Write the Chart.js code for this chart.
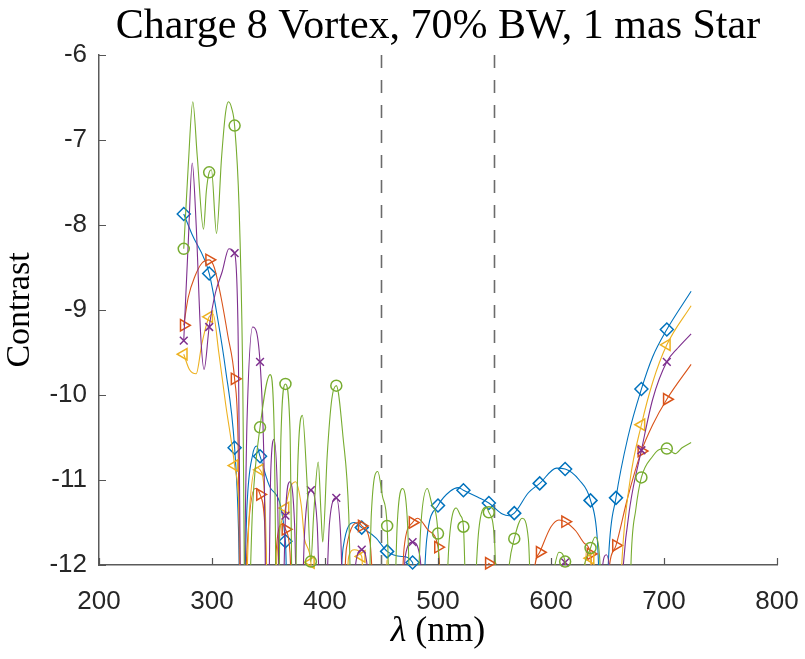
<!DOCTYPE html>
<html>
<head>
<meta charset="utf-8">
<script src="https://cdn.jsdelivr.net/npm/chart.js@4.4.1/dist/chart.umd.min.js"></script>
<style>
html, body { margin: 0; padding: 0; background: #fff; }
#wrap { width: 805px; height: 659px; }
</style>
</head>
<body>
<div id="wrap"><canvas id="chart" width="805" height="659"></canvas></div>
<script>
var titleText = 'Charge 8 Vortex, 70% BW, 1 mas Star';

// axes
var xTicks = [200, 300, 400, 500, 600, 700, 800];
var yTicks = [-12, -11, -10, -9, -8, -7, -6];
var bandEdges = [450, 550];

// wavelengths that carry a marker (nm)
var markX = [275, 297.5, 320, 342.5, 365, 387.5, 410, 432.5, 455, 477.5,
             500, 522.5, 545, 567.5, 590, 612.5, 635, 657.5, 680, 702.5];

// log10 contrast at the markers, null = below the axes
var blueMarks   = [-7.87, -8.57, -10.62, -10.72, -11.72, null, null, -11.56, -11.84, -11.97,
                   -11.30, -11.12, -11.27, -11.39, -11.04, -10.87, -11.24, -11.21, -9.93, -9.23];
var redMarks    = [-9.18, -8.41, -9.81, -11.17, -11.58, null, null, -11.54, null, -11.50,
                   -11.79, null, -11.98, null, -11.85, -11.49, -11.87, -11.77, -10.66, -10.05];
var yellowMarks = [-9.52, -9.08, -10.83, -10.88, -11.33, -11.97, null, -11.90, null, null,
                   null, null, null, null, null, null, -11.92, null, -10.35, -9.41];
var purpleMarks = [-9.36, -9.20, -8.33, -9.61, -11.42, -11.12, -11.21, -11.82, null, -11.73,
                   null, null, null, null, null, -11.97, null, null, -10.65, -9.61];
var greenMarks  = [-8.28, -7.38, -6.83, -10.38, -9.87, -11.96, -9.89, null, -11.54, null,
                   -11.63, -11.55, -11.38, -11.69, null, -11.96, -11.80, null, -10.97, -10.63];

// extra points between the markers: [nm, contrast]
var blueCurve = [[282, -8.1], [305, -9.1], [312, -9.7], [323.5, -11.6], [326, -13.5], [331, -11.3],
  [336, -10.7], [339.5, -10.6], [352, -11.1], [368, -13.5], [390, -14], [409, -13.5], [416, -11.8],
  [426, -11.5], [445, -11.68], [468, -11.9], [482, -13.5], [490, -11.7], [511, -11.13], [518, -11.09],
  [535, -11.2], [557, -11.4], [563, -11.42], [580, -11.15], [605, -10.86], [625, -11.0], [641, -11.7],
  [647, -13.5], [651, -11.9], [668, -10.5], [690, -9.55], [724, -8.78]];
var redCurve = [[279, -8.85], [285, -8.6], [291, -8.45], [302, -8.5], [308, -8.85], [314, -9.3],
  [323, -10.5], [326, -13.5], [331, -11.8], [338, -11.1], [347, -11.6], [351, -13.5], [357, -11.8],
  [362, -11.52], [369, -11.85], [373, -13.5], [395, -14], [413, -13.5], [419, -11.8], [430, -11.5],
  [440, -11.75], [447, -13.5], [464, -13.5], [470, -11.8], [482, -11.45], [492, -11.6], [508, -13.5],
  [530, -14], [540, -12.4], [550, -12.4], [555, -13.5], [581, -13.5], [585, -12.1], [600, -11.55],
  [607, -11.47], [622, -11.6], [630, -11.75], [641, -13.5], [646, -13.5], [651, -12.1], [668, -11.2],
  [690, -10.35], [724, -9.64]];
var yellowCurve = [[280, -9.7], [286, -9.75], [291, -9.4], [301, -9.05], [306, -9.5], [312, -10.1],
  [324, -11.4], [327, -13.5], [333, -11.4], [339, -10.85], [347, -11.3], [351, -13.5], [358, -11.8],
  [369, -11.1], [374, -11.02], [379, -11.3], [382, -11.7], [393, -13.5], [415, -13.5], [421, -11.9],
  [426, -11.82], [437, -13.5], [449, -13], [455, -11.94], [461, -13], [500, -14], [600, -14],
  [626, -13.5], [631, -11.85], [639, -13.5], [658, -13.5], [663, -11.9], [670, -11.0], [690, -9.85],
  [724, -8.95]];
var purpleCurve = [[279, -8.2], [282.5, -7.27], [286, -8.0], [290, -9.3], [293, -9.7], [303, -8.8],
  [309, -8.55], [315, -8.28], [323, -9.2], [326.5, -13.5], [331, -10.3], [336, -9.2], [346, -10.8],
  [349, -13.5], [352, -10.9], [355, -10.52], [358, -11.2], [361, -13.5], [369, -11.02], [373, -11.5],
  [377, -13.5], [382, -11.6], [393, -11.5], [398, -13.5], [404, -11.5], [414, -11.7], [418, -13.5],
  [427, -12.0], [438, -12.1], [442, -13.5], [466, -13.5], [471, -11.9], [484, -11.9], [492, -13.5],
  [600, -14], [606, -12.3], [619, -12.3], [640, -14], [645, -12.1], [649, -11.88], [653, -12.2],
  [658, -13.5], [664, -12.0], [670, -11.3], [690, -10.05], [712, -9.45], [724, -9.28]];
var greenCurve = [[279, -7.3], [283, -6.55], [287, -7.2], [292.5, -8.05], [295, -7.6], [299.5, -7.35],
  [304, -8.1], [308.5, -7.2], [312, -6.68], [314.5, -6.55], [317.5, -6.63], [324, -7.8], [327, -9.6],
  [330, -13.5], [336, -11.3],
  [351.5, -9.76], [355, -10.4], [358, -13.5], [361, -10.5], [369, -10.4], [372, -13.5], [376, -10.8],
  [380, -10.24], [384, -11.0], [390, -11.4], [394, -10.79], [396.5, -11.4], [398, -11.73], [402, -10.7],
  [406, -10.05], [416, -10.5], [421, -11.4], [425, -13.5], [437, -13.5], [441, -11.4], [446.7, -10.9],
  [451, -11.2], [459, -13.5], [464, -11.5], [468.7, -11.1], [473, -11.5], [478, -13.5], [485, -11.5],
  [490.5, -11.1], [495, -11.3], [503, -13.5], [510, -11.7], [516, -11.33], [520, -11.42], [527, -13.5],
  [536, -11.6], [542.5, -11.32], [550, -11.7], [554, -13.5], [563, -12.0], [574.4, -11.45], [580, -11.7],
  [585, -13.5], [602, -12.1], [607, -11.85], [617, -13.5], [628, -12.1], [639, -11.67], [643, -11.9],
  [647, -13.5], [668, -13.5], [671, -11.9], [675, -11.35], [690, -10.72], [696, -10.64], [710, -10.69],
  [716, -10.62], [724, -10.56]];

function curvePoints(curve, marks) {
  var pts = curve.map(function (p) { return {x: p[0], y: p[1]}; });
  for (var i = 0; i < markX.length; i++) {
    if (marks[i] !== null) pts.push({x: markX[i], y: marks[i]});
  }
  pts.sort(function (a, b) { return a.x - b.x; });
  return pts;
}

function markPoints(marks) {
  return markX.map(function (x, i) { return {x: x, y: marks[i]}; });
}

var series = [
  {curve: greenCurve, marks: greenMarks, color: '#77AC30', style: 'circle', rot: 0, r: 5.5},
  {curve: purpleCurve, marks: purpleMarks, color: '#7E2F8E', style: 'crossRot', rot: 0, r: 5.5},
  {curve: yellowCurve, marks: yellowMarks, color: '#EDB120', style: 'triangle', rot: -90, r: 6.5},
  {curve: redCurve, marks: redMarks, color: '#D95319', style: 'triangle', rot: 90, r: 6.5},
  {curve: blueCurve, marks: blueMarks, color: '#0072BD', style: 'rectRot', rot: 0, r: 6.5}
];

var datasets = [];
series.forEach(function (s, k) {
  datasets.push({
    type: 'scatter',
    data: markPoints(s.marks),
    showLine: false,
    pointStyle: s.style,
    rotation: s.rot,
    pointRadius: s.r,
    pointBorderColor: s.color,
    pointBackgroundColor: 'rgba(0,0,0,0)',
    pointBorderWidth: 1.5,
    clip: false,
    order: 2 * k
  });
  datasets.push({
    type: 'line',
    data: curvePoints(s.curve, s.marks),
    borderColor: s.color,
    borderWidth: 1.1,
    pointRadius: 0,
    fill: false,
    cubicInterpolationMode: 'monotone',
    clip: 0,
    order: 2 * k + 1
  });
});
bandEdges.forEach(function (b) {
  datasets.push({
    type: 'line',
    data: [{x: b, y: -6}, {x: b, y: -12}],
    borderColor: '#6b6b6b',
    borderWidth: 1.6,
    borderDash: [13, 12],
    pointRadius: 0,
    order: 20
  });
});

// MATLAB style: ticks pointing inwards, title and x label in serif
var matlabLook = {
  id: 'matlabLook',
  afterDatasetsDraw: function (chart) {
    var ctx = chart.ctx, xs = chart.scales.x, ys = chart.scales.y, a = chart.chartArea;
    ctx.save();
    ctx.strokeStyle = '#555';
    ctx.lineWidth = 1.2;
    ctx.beginPath();
    xTicks.forEach(function (v) {
      var px = Math.round(xs.getPixelForValue(v)) + 0.5;
      ctx.moveTo(px, a.bottom); ctx.lineTo(px, a.bottom - 7);
    });
    yTicks.forEach(function (v) {
      var py = Math.round(ys.getPixelForValue(v)) + 0.5;
      ctx.moveTo(a.left, py); ctx.lineTo(a.left + 7, py);
    });
    ctx.stroke();

    var cx = (a.left + a.right) / 2;
    ctx.fillStyle = '#000';
    ctx.textBaseline = 'alphabetic';
    ctx.textAlign = 'center';
    ctx.font = '42px "Liberation Serif"';
    ctx.fillText(titleText, cx, 38);

    var lam = 'λ', unit = ' (nm)';
    ctx.font = 'italic 36px "Liberation Serif"';
    var w1 = ctx.measureText(lam).width;
    ctx.font = '36px "Liberation Serif"';
    var w2 = ctx.measureText(unit).width;
    var x0 = cx - (w1 + w2) / 2;
    ctx.textAlign = 'left';
    ctx.font = 'italic 36px "Liberation Serif"';
    ctx.fillText(lam, x0, 641);
    ctx.font = '36px "Liberation Serif"';
    ctx.fillText(unit, x0 + w1, 641);
    ctx.restore();
  }
};

new Chart(document.getElementById('chart'), {
  type: 'scatter',
  data: {datasets: datasets},
  plugins: [matlabLook],
  options: {
    responsive: false,
    animation: false,
    layout: {padding: {left: 0, right: 28, top: 55, bottom: 0}},
    plugins: {
      legend: {display: false},
      tooltip: {enabled: false},
      title: {display: false}
    },
    scales: {
      x: {
        type: 'linear',
        min: 200, max: 800,
        afterBuildTicks: function (s) { s.ticks = xTicks.map(function (v) { return {value: v}; }); },
        afterFit: function (s) { s.height = 94; s.paddingLeft = 0; s.paddingRight = 0; },
        grid: {display: false, drawTicks: false},
        border: {display: true, color: '#5a5a5a', width: 1.5},
        ticks: {color: '#262626', padding: 21, maxRotation: 0,
                font: {family: 'Liberation Sans', size: 26}}
      },
      y: {
        type: 'linear',
        min: -12, max: -6,
        afterBuildTicks: function (s) { s.ticks = yTicks.map(function (v) { return {value: v}; }); },
        afterFit: function (s) { s.width = 99; },
        grid: {display: false, drawTicks: false},
        border: {display: true, color: '#5a5a5a', width: 1.5},
        ticks: {color: '#262626', padding: 12,
                font: {family: 'Liberation Sans', size: 26}},
        title: {display: true, text: 'Contrast', color: '#000',
                font: {family: 'Liberation Serif', size: 34, lineHeight: 1.2}, padding: {top: 0, bottom: 0}}
      }
    }
  }
});
</script>
</body>
</html>
